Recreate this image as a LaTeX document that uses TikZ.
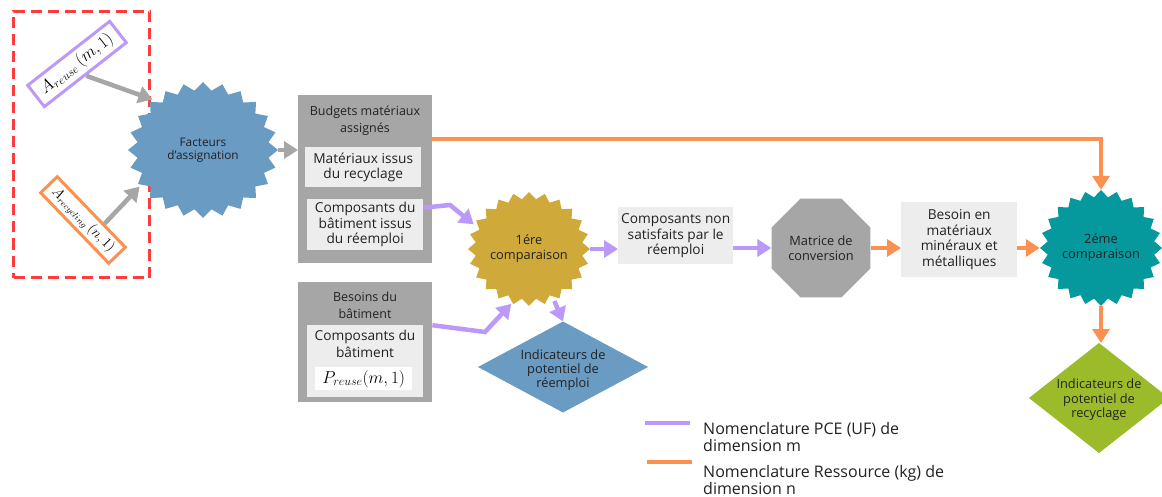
\documentclass[tikz,border=0pt]{standalone}
\usepackage{fontspec}
\setmainfont{Open Sans}
\usetikzlibrary{shapes.geometric,arrows.meta,calc}
\definecolor{gboxc}{HTML}{A6A6A6}
\definecolor{lboxc}{HTML}{EDEDED}
\definecolor{steelc}{HTML}{6A9BC3}
\definecolor{goldc}{HTML}{CFA93A}
\definecolor{tealc}{HTML}{05999E}
\definecolor{limec}{HTML}{9CBB2B}
\definecolor{purpc}{HTML}{BB99FA}
\definecolor{orngc}{HTML}{FB9150}
\definecolor{reddc}{HTML}{FF3B3B}
\definecolor{textc}{HTML}{222222}
\newcommand{\myburst}[5]{\fill[#5] plot[samples=48,domain=0:47,variable=\k] ({#1+#3*(1-0.12*mod(\k,2))*cos(\k*7.5)},{#2+#4*(1-0.12*mod(\k,2))*sin(\k*7.5)}) -- cycle;}
\begin{document}
\begin{tikzpicture}[x=1pt,y=-1pt,
  txt/.style={align=center, text=textc, font=\fontsize{12.5}{17}\selectfont, inner sep=0},
  smalltxt/.style={align=center, text=textc, font=\fontsize{12.8}{14}\selectfont, inner sep=0},
  boxg/.style={rectangle, fill=gboxc, inner sep=0, anchor=north west},
  boxl/.style={rectangle, fill=lboxc, inner sep=0, anchor=north west, align=center, text=textc, font=\fontsize{13.7}{15.5}\selectfont},
  burstnode/.style={ellipse, inner sep=0, align=center, text=textc, font=\fontsize{12.8}{15}\selectfont},
  parr/.style={draw=purpc, line width=4.5pt, line join=miter, -{Triangle[width=17pt,length=14pt]}},
  oarr/.style={draw=orngc, line width=4.5pt, line join=miter, -{Triangle[width=17pt,length=14pt]}},
  garr/.style={draw=gboxc, line width=4.5pt, -{Triangle[width=17pt,length=14pt]}},
  legtxt/.style={anchor=west, align=left, text=textc, font=\fontsize{16}{17.5}\selectfont, inner sep=0}]
\useasboundingbox (0,0) rectangle (1162,497);
\fill[white] (0,0) rectangle (1162,497);

% dashed group
\node[draw=reddc, line width=3pt, dash pattern=on 11pt off 6pt, minimum width=136pt, minimum height=266pt, anchor=north west, inner sep=0] (grp) at (12,10) {};

% Facteurs starburst
\myburst{203}{150}{75}{68}{steelc}
\node[burstnode, minimum width=150pt, minimum height=136pt, font=\fontsize{11.8}{12.7}\selectfont] (fact) at (203,150) {Facteurs\\d'assignation};

% A boxes
\node[draw=purpc, line width=3pt, fill=white, minimum width=104pt, minimum height=27pt, rotate=38, inner sep=0] (areuse) at (77,64) {\fontsize{17}{17}\selectfont$A_{reuse}\,(m,1)$};
\node[draw=orngc, line width=3pt, fill=white, minimum width=98pt, minimum height=23pt, rotate=-46, inner sep=0] (arec) at (83,220) {\fontsize{13.5}{13.5}\selectfont$A_{recycling}\,(n,1)$};
\draw[garr] (areuse.south) -- (fact.135);
\draw[garr] ($(arec.north)!0.35!(arec.north east)$) -- (fact.210);

% Budgets
\node[boxg, minimum width=134pt, minimum height=168pt] (budg) at (298,95) {};
\node[txt] (budgt) at (365,121) {Budgets matériaux\\assignés};
\node[boxl, minimum width=116pt, minimum height=40pt] (matrec) at (305,147) {Matériaux issus\\du recyclage};
\node[boxl, minimum width=116pt, minimum height=51pt] (compre) at (307,199) {Composants du\\bâtiment issus\\du réemploi};
\draw[garr] (fact.east) -- (budg.west |- fact.east);

% Besoins
\node[boxg, minimum width=134pt, minimum height=120pt] (besoin) at (298,282) {};
\node[txt] (besointext) at (365,305) {Besoins du\\bâtiment};
\node[boxl, minimum width=116pt, minimum height=72pt] (compbat) at (307,325) {};
\node[txt, font=\fontsize{13.7}{17}\selectfont] (compbattxt) at (365,344) {Composants du\\bâtiment};
\node[rectangle, fill=white, minimum width=97pt, minimum height=23pt, inner sep=0, anchor=north west] (preuse) at (315,367) {\fontsize{17}{17}\selectfont$P_{reuse}(m,1)$};

% 1ere comparaison
\myburst{529}{249}{61}{57}{goldc}
\node[burstnode, minimum width=122pt, minimum height=114pt] (first) at (529,249) {1ére\\comparaison};

\coordinate (k1) at (450,205);
\coordinate (k2) at (485,332);
\draw[parr] ($(compre.east)+(0,-17)$) -- (k1) -- (first.156);
\draw[parr] ($(besoin.east)+(0,-17)$) -- (k2) -- (first.252);

% diamond reemploi
\coordinate (dre) at (563,367);
\fill[steelc] ($(dre)+(-85,0)$) -- ($(dre)+(0,-45.5)$) -- ($(dre)+(85,0)$) -- ($(dre)+(0,45.5)$) -- cycle;
\node[smalltxt] (reem) at (563,370) {Indicateurs de\\potentiel de\\réemploi};
\coordinate (dretop) at ($(dre)+(0,-45.5)$);
\draw[parr] (first.-64) -- (dretop);

% composants non satisfaits
\node[boxl, minimum width=115pt, minimum height=57pt] (cns) at (618,207) {Composants non\\satisfaits par le\\réemploi};
\draw[parr] (first.east) -- (cns.west |- first.east);

% matrice
\node[regular polygon, regular polygon sides=8, minimum size=107pt, fill=gboxc, inner sep=0, align=center, text=textc, font=\fontsize{12.8}{15}\selectfont] (mat) at (821,248) {Matrice de\\conversion};
\draw[parr] (cns.east |- mat.west) -- (mat.west);

% besoin materiaux
\node[boxl, minimum width=116pt, minimum height=75pt] (bm) at (901,202) {Besoin en\\matériaux\\minéraux et\\métalliques};
\draw[oarr] (mat.east) -- (bm.west |- mat.east);

% 2eme comparaison
\myburst{1101}{248}{61}{58}{tealc}
\node[burstnode, minimum width=122pt, minimum height=116pt] (second) at (1101,248) {2éme\\comparaison};
\draw[oarr] (bm.east |- second.west) -- (second.west);
\coordinate (o1) at ($(budg.north east)+(0,44)$);
\draw[oarr] (o1) -| (second.north);

% diamond recyclage
\coordinate (drc) at (1099,398);
\fill[limec] ($(drc)+(-70,0)$) -- ($(drc)+(0,-55)$) -- ($(drc)+(70,0)$) -- ($(drc)+(0,55)$) -- cycle;
\node[smalltxt, font=\fontsize{12.8}{14.5}\selectfont] (recy) at (1099,400) {Indicateurs de\\potentiel de\\recyclage};
\coordinate (drctop) at ($(drc)+(0,-55)$);
\draw[oarr] (second.south) -- (second.south |- drctop);

% legend
\coordinate (lp1) at (645,423);
\coordinate (lp2) at (690,423);
\draw[purpc, line width=4pt] (lp1) -- (lp2);
\node[legtxt] (leg1) at (703,437) {Nomenclature PCE (UF) de\\dimension m};
\coordinate (lo1) at (647,462);
\coordinate (lo2) at (692,462);
\draw[orngc, line width=4pt] (lo1) -- (lo2);
\node[legtxt] (leg2) at (703,480) {Nomenclature Ressource (kg) de\\dimension n};
\end{tikzpicture}
\end{document}
